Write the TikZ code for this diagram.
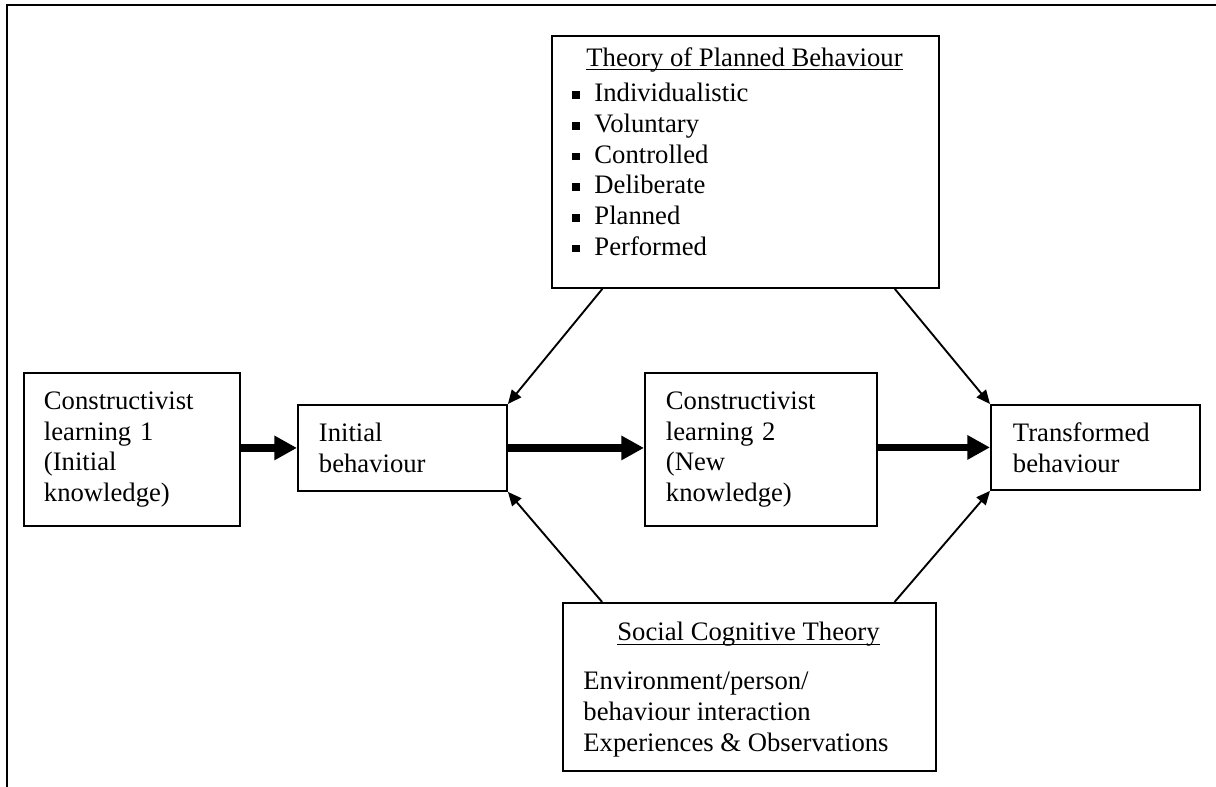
\documentclass[tikz,border=0pt]{standalone}
\usepackage{fontspec}
\setmainfont{Liberation Serif}
\usetikzlibrary{arrows.meta,calc}
\newcommand{\sqbul}{\makebox[9.9pt][l]{\rule[1.2pt]{3.5pt}{3.5pt}}}

\begin{document}
\begin{tikzpicture}[
    x=0.45pt,y=-0.45pt,
    font=\fontsize{12}{13.8}\selectfont,
    box/.style={rectangle,draw=black,line width=0.85pt,align=left,anchor=north west,inner ysep=0pt},
    plain/.style={inner sep=0pt,align=left},
    bigarrow/.style={line width=3.4pt,-{Triangle[length=10.2pt,width=10.4pt]}},
    thinarrow/.style={line width=0.85pt,-{Triangle[length=6.2pt,width=5.4pt]}},
]
\useasboundingbox (0,0) rectangle (1216,787);
\draw[line width=0.9pt] (7,787) -- (7,5) -- (1216,5);

% main row
\node[box,minimum width=97.2pt,minimum height=68.85pt,text width=79.2pt,inner xsep=9pt] (cl1) at (23,372) {Constructivist\\learning 1\\(Initial\\knowledge)};
\node[box,minimum width=94.05pt,minimum height=38.7pt,text width=75.15pt,inner xsep=9.45pt] (init) at (297,404) {Initial\\behaviour};
\node[box,minimum width=104.4pt,minimum height=68.85pt,text width=85.5pt,inner xsep=9.45pt] (cl2) at (644,372) {Constructivist\\learning 2\\(New\\knowledge)};
\node[box,minimum width=94.05pt,minimum height=38.25pt,text width=74.25pt,inner xsep=9.9pt] (tr) at (990,404) {Transformed\\behaviour};

% theory boxes
\node[box,minimum width=174.15pt,minimum height=113.4pt] (tpb) at (551,35) {};
\node[plain,anchor=base] (tpbhead) at (744.5,66.5) {\underline{\smash{Theory of Planned Behaviour}}};
\node[plain,anchor=north west] (tpblist) at (572,82.8) {\sqbul Individualistic\\\sqbul Voluntary\\\sqbul Controlled\\\sqbul Deliberate\\\sqbul Planned\\\sqbul Performed};

\node[box,minimum width=167.85pt,minimum height=75.6pt] (sct) at (562,602) {};
\node[plain,anchor=base] (scthead) at (748.5,641) {\underline{\smash{Social Cognitive Theory}}};
\node[plain,anchor=north west] (sctlist) at (583,671.8) {Environment/person/\\behaviour interaction\\Experiences \& Observations};

% connectors
\draw[bigarrow] (cl1.east |- init.west) -- (init.west);
\draw[bigarrow] (init.east) -- (init.east -| cl2.west);
\draw[bigarrow] (cl2.east |- tr.west) -- (tr.west);

\draw[thinarrow] ($(tpb.south west)!0.132!(tpb.south east)$) -- (init.north east);
\draw[thinarrow] ($(tpb.south west)!0.884!(tpb.south east)$) -- (tr.north west);
\draw[thinarrow] ($(sct.north west)!0.107!(sct.north east)$) -- (init.south east);
\draw[thinarrow] ($(sct.north west)!0.887!(sct.north east)$) -- (tr.south west);
\end{tikzpicture}
\end{document}
